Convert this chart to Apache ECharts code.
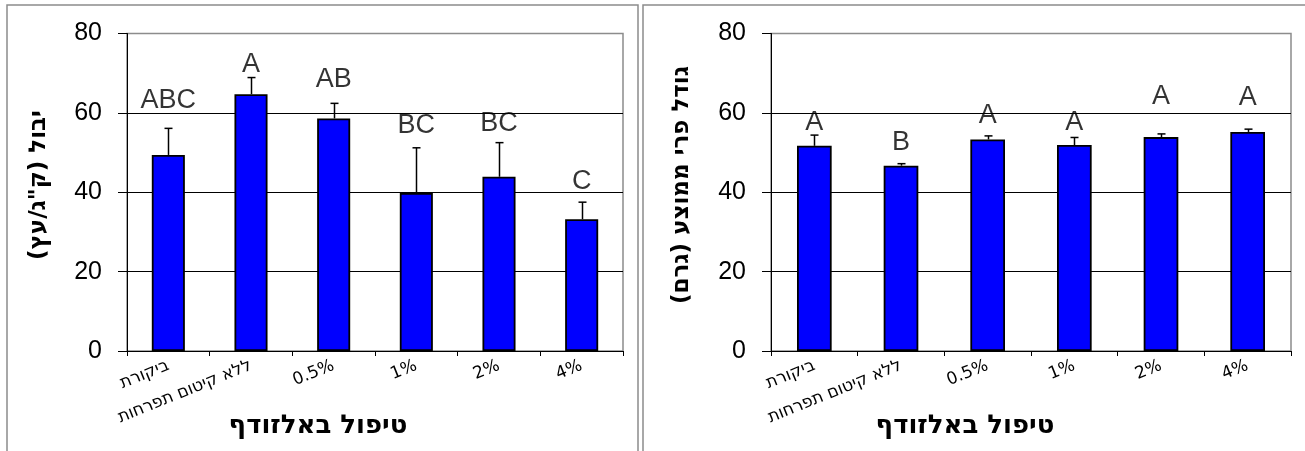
<!DOCTYPE html>
<html>
<head>
<meta charset="utf-8">
<script src="https://cdn.jsdelivr.net/npm/echarts@6/dist/echarts.min.js"></script>
<style>
html,body{margin:0;padding:0;background:#fff;}
#c{width:1305px;height:451px;}
</style>
</head>
<body>
<div id="c"></div>
<script>
// ---- data ----
const categories = ['ביקורת', 'ללא קיטום תפרחות', '0.5%', '1%', '2%', '4%'];
const yieldMean = [49.4, 64.7, 58.6, 39.8, 43.9, 33.2];
const yieldErr = [6.7, 4.2, 3.8, 11.4, 8.6, 4.3];
const yieldLetters = ['ABC', 'A', 'AB', 'BC', 'BC', 'C'];
const yieldLetterY = [63.2, 72.3, 68.4, 56.9, 57.4, 42.8];
const sizeMean = [51.7, 46.7, 53.3, 51.9, 53.9, 55.2];
const sizeErr = [2.7, 0.5, 0.9, 1.9, 0.8, 0.7];
const sizeLetters = ['A', 'B', 'A', 'A', 'A', 'A'];
const sizeLetterY = [57.6, 52.4, 59.4, 57.5, 64.2, 63.9];
const yMin = 0, yMax = 80, yStep = 20;
const xTitle = 'טיפול באלזודף';
const yTitleLeft = 'יבול (ק"ג/עץ)\u200F';
const yTitleRight = 'גודל פרי ממוצע (גרם)\u200F';

const chart = echarts.init(document.getElementById('c'), null, {renderer: 'canvas'});
const LAT = 'Liberation Sans, Arial, sans-serif';
const HEB = 'DejaVu Sans, Liberation Sans, sans-serif';

function xAxisCfg(gi) {
  return {
    type: 'category', gridIndex: gi, data: categories,
    axisLine: {lineStyle: {color: '#000', width: 1}},
    axisTick: {show: true, length: 5, lineStyle: {color: '#000'}},
    axisLabel: {rotate: 22, fontSize: 17, color: '#000', fontFamily: HEB, margin: 14},
    splitLine: {show: false}
  };
}
function yAxisCfg(gi) {
  return {
    type: 'value', gridIndex: gi, min: yMin, max: yMax, interval: yStep,
    axisLine: {show: true, lineStyle: {color: '#000', width: 1}},
    axisTick: {show: true, length: 9, lineStyle: {color: '#000'}},
    axisLabel: {fontSize: 25, color: '#000', fontFamily: LAT, margin: 25},
    splitLine: {show: true, showMaxLine: false, showMinLine: false, lineStyle: {color: '#000', width: 1}}
  };
}
function errSeries(gi, means, errs) {
  return {
    type: 'custom', xAxisIndex: gi, yAxisIndex: gi, z: 5,
    data: means.map((m, i) => [i, m, m + errs[i]]),
    renderItem: function (params, api) {
      const p0 = api.coord([api.value(0), api.value(1)]);
      const p1 = api.coord([api.value(0), api.value(2)]);
      const x = Math.round(p0[0]) + 0.5;
      return {
        type: 'group',
        children: [
          {type: 'line', shape: {x1: x, y1: p0[1], x2: x, y2: p1[1]}, style: {stroke: '#000', lineWidth: 1.5}},
          {type: 'line', shape: {x1: x - 4, y1: p1[1], x2: x + 4, y2: p1[1]}, style: {stroke: '#000', lineWidth: 1.5}}
        ]
      };
    }
  };
}
function letterSeries(gi, ys, letters) {
  return {
    type: 'scatter', xAxisIndex: gi, yAxisIndex: gi, z: 6,
    symbolSize: 1, itemStyle: {color: 'rgba(0,0,0,0)'},
    data: ys.map((y, i) => [i, y]),
    label: {show: true, position: 'inside', fontSize: 27, color: '#000', fontFamily: LAT,
      formatter: p => letters[p.dataIndex]},
    silent: true
  };
}
function barSeries(gi, means) {
  return {
    type: 'bar', xAxisIndex: gi, yAxisIndex: gi, data: means, barCategoryGap: '60%',
    itemStyle: {color: '#0000FF', borderColor: '#000', borderWidth: 1.8},
    z: 3
  };
}

chart.setOption({
  animation: false,
  backgroundColor: '#fff',
  grid: [
    {left: 127, right: 682, top: 33.5, bottom: 100, show: true, borderColor: '#8c8c8c', borderWidth: 1.5, backgroundColor: '#fff'},
    {left: 771, right: 14, top: 33.5, bottom: 100, show: true, borderColor: '#8c8c8c', borderWidth: 1.5, backgroundColor: '#fff'}
  ],
  xAxis: [xAxisCfg(0), xAxisCfg(1)],
  yAxis: [yAxisCfg(0), yAxisCfg(1)],
  series: [
    barSeries(0, yieldMean), errSeries(0, yieldMean, yieldErr), letterSeries(0, yieldLetterY, yieldLetters),
    barSeries(1, sizeMean), errSeries(1, sizeMean, sizeErr), letterSeries(1, sizeLetterY, sizeLetters)
  ],
  graphic: [
    {type: 'rect', shape: {x: 7, y: 5, width: 631, height: 460}, style: {fill: 'none', stroke: '#8c8c8c', lineWidth: 1.5}, z: -10, silent: true},
    {type: 'rect', shape: {x: 643, y: 5, width: 700, height: 460}, style: {fill: 'none', stroke: '#8c8c8c', lineWidth: 1.5}, z: -10, silent: true},
    {type: 'text', x: 318, y: 426, style: {text: xTitle, font: 'bold 26px ' + HEB, fill: '#000', align: 'center', verticalAlign: 'middle'}},
    {type: 'text', x: 965, y: 426, style: {text: xTitle, font: 'bold 26px ' + HEB, fill: '#000', align: 'center', verticalAlign: 'middle'}},
    {type: 'text', x: 39, y: 185, rotation: Math.PI / 2, style: {text: yTitleLeft, font: 'bold 23px ' + HEB, fill: '#000', align: 'center', verticalAlign: 'middle'}},
    {type: 'text', x: 682, y: 185, rotation: Math.PI / 2, style: {text: yTitleRight, font: 'bold 23px ' + HEB, fill: '#000', align: 'center', verticalAlign: 'middle'}}
  ]
});
</script>
</body>
</html>
